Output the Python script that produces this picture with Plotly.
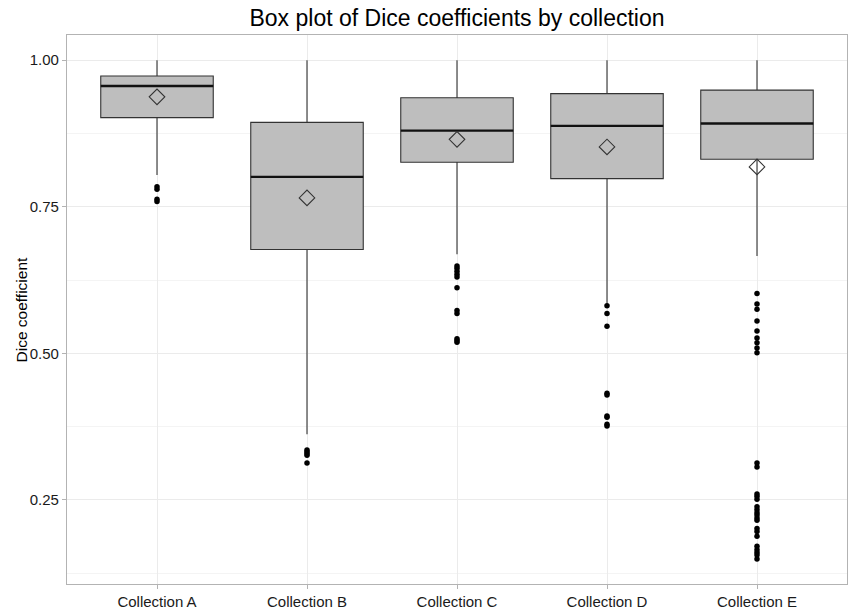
import plotly.graph_objects as go

categories = ["Collection A", "Collection B", "Collection C", "Collection D", "Collection E"]
q1 = [0.902, 0.677, 0.826, 0.798, 0.831]
median = [0.956, 0.801, 0.880, 0.888, 0.892]
q3 = [0.973, 0.894, 0.936, 0.943, 0.949]
lower_whisker = [0.804, 0.362, 0.669, 0.585, 0.666]
upper_whisker = [1.0, 1.0, 1.0, 1.0, 1.0]
means = [0.9375, 0.765, 0.865, 0.852, 0.818]
outliers = [
    [0.784, 0.780, 0.763, 0.759],
    [0.335, 0.332, 0.329, 0.326, 0.313],
    [0.649, 0.645, 0.640, 0.635, 0.630, 0.612, 0.573, 0.568, 0.525, 0.522, 0.519],
    [0.581, 0.568, 0.546, 0.432, 0.429, 0.393, 0.391, 0.379, 0.376],
    [0.602, 0.584, 0.575, 0.555, 0.538, 0.526, 0.518, 0.509, 0.501,
     0.313, 0.306, 0.260, 0.256, 0.251, 0.238, 0.233, 0.228, 0.224, 0.219, 0.215,
     0.201, 0.196, 0.188, 0.171, 0.165, 0.160, 0.156, 0.149],
]
y_ticks = [0.25, 0.50, 0.75, 1.00]
y_tick_labels = ["0.25", "0.50", "0.75", "1.00"]

BOX_W = 0.75
pos = list(range(len(categories)))
FONT = "Liberation Sans, Arial, Helvetica, sans-serif"

fig = go.Figure()
for i, c in enumerate(categories):
    fig.add_trace(go.Box(
        x=[pos[i]], q1=[q1[i]], median=[median[i]], q3=[q3[i]],
        lowerfence=[lower_whisker[i]], upperfence=[upper_whisker[i]],
        width=BOX_W, boxpoints=False, fillcolor="#bebebe",
        line=dict(color="#333333", width=1.1), whiskerwidth=0,
        name=c, showlegend=False, hoverinfo="skip",
    ))
    # thicker median line (ggplot style)
    fig.add_trace(go.Scatter(
        x=[pos[i] - BOX_W / 2, pos[i] + BOX_W / 2], y=[median[i], median[i]],
        mode="lines", line=dict(color="#111111", width=2.3),
        showlegend=False, hoverinfo="skip",
    ))
    fig.add_trace(go.Scatter(
        x=[pos[i]] * len(outliers[i]), y=outliers[i], mode="markers",
        marker=dict(color="black", size=5.5), showlegend=False,
    ))

fig.add_trace(go.Scatter(
    x=pos, y=means, mode="markers",
    marker=dict(symbol="diamond-open", size=12, color="#333333", line=dict(width=1.1)),
    showlegend=False,
))

axis_common = dict(
    showline=True, linecolor="#b3b3b3", linewidth=1.2, mirror=True,
    ticks="outside", ticklen=4, tickcolor="#b3b3b3", tickwidth=1,
    gridcolor="#ebebeb", gridwidth=1, zeroline=False,
    tickfont=dict(family=FONT, size=15, color="#1a1a1a"),
)

fig.update_layout(
    width=849, height=609,
    margin=dict(l=67, r=2, t=35, b=25, autoexpand=False),
    paper_bgcolor="white", plot_bgcolor="white",
    title=dict(text="Box plot of Dice coefficients by collection",
               font=dict(family=FONT, size=23, color="black"),
               x=0.5, xref="paper", xanchor="center", y=1 - 18 / 609, yref="container", yanchor="middle"),
    xaxis=dict(axis_common, range=[-0.6, 4.6], tickmode="array", tickvals=pos, ticktext=categories),
    yaxis=dict(axis_common, range=[0.1064, 1.043], tickmode="array", tickvals=y_ticks, ticktext=y_tick_labels,
               minor=dict(tickvals=[0.125, 0.375, 0.625, 0.875], showgrid=True, gridcolor="#f4f4f4", ticks="")),
    annotations=[dict(text="Dice coefficient", textangle=-90, xref="paper", yref="paper",
                      x=(21 - 67) / 780, y=0.5, xanchor="center", yanchor="middle", showarrow=False,
                      font=dict(family=FONT, size=15.5, color="black"))],
)

fig.write_html("out.html", config={"displayModeBar": False},
               post_script="document.body.style.margin='0';document.body.style.padding='0';")
